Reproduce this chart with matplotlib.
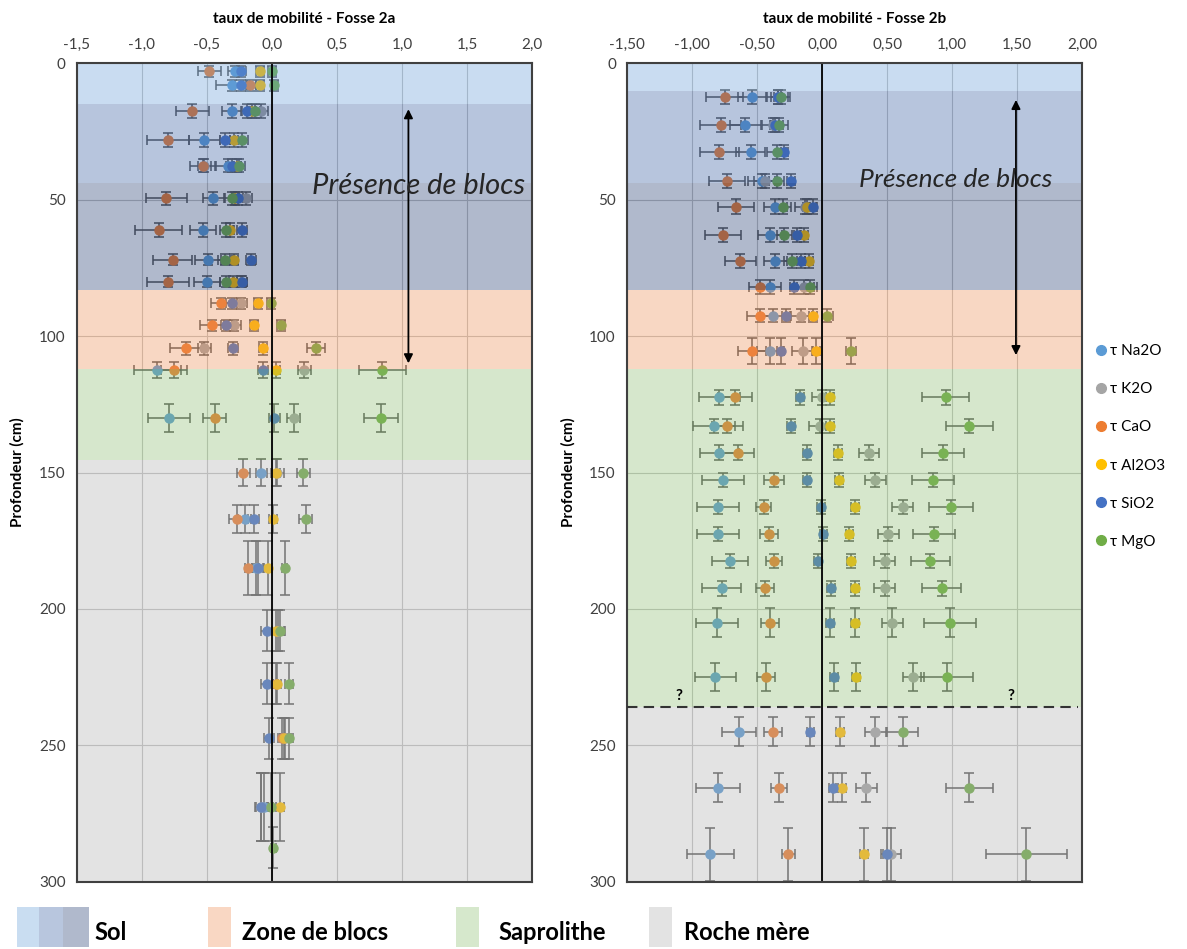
import matplotlib
matplotlib.use("Agg")
import matplotlib.pyplot as plt
import numpy as np
from matplotlib.patches import Rectangle
from matplotlib.lines import Line2D
from matplotlib.ticker import FuncFormatter, MultipleLocator

plt.rcParams['font.family'] = ['Lato', 'DejaVu Sans']

nan = np.nan

## series names and colours (Excel palette)
elements = ["Na2O", "K2O", "CaO", "Al2O3", "SiO2", "MgO"]
colors = ["#5b9bd5", "#a5a5a5", "#ed7d31", "#ffc000", "#4472c4", "#70ad47"]

## Fosse 2a
depth_2a = [3, 8, 17.5, 28, 37.5, 49.5, 61, 72, 80, 88, 96, 104.5, 112.5, 130,
            150, 167, 185, 208, 227.5, 247.5, 272.5, 287.5]
yerr_2a = [2, 2, 2.5, 2.5, 2.5, 2.5, 2.5, 2, 2, 2, 2, 2.5, 3, 5,
           5, 5, 10, 7.5, 7.5, 7.5, 12.5, 7.5]
na2o_2a = [-0.28, -0.31, -0.31, -0.52, -0.34, -0.45, -0.53, -0.49, -0.50, nan, nan, nan, -0.88, -0.79,
           -0.08, -0.21, -0.12, nan, nan, nan, -0.06, nan]
k2o_2a = [nan, nan, -0.08, nan, -0.52, -0.2, nan, nan, -0.24, -0.24, -0.29, -0.52, 0.25, 0.17,
          0.04, nan, nan, 0.05, nan, 0.10, -0.08, nan]
cao_2a = [-0.48, -0.17, -0.61, -0.80, -0.53, -0.81, -0.87, -0.76, -0.80, -0.39, -0.46, -0.66, -0.75, -0.44,
          -0.22, -0.27, -0.18, nan, 0.03, 0.08, nan, nan]
al2o3_2a = [-0.09, -0.09, -0.15, -0.29, -0.27, -0.28, -0.32, -0.29, -0.30, -0.11, -0.14, -0.07, 0.03, nan,
            0.03, 0.01, -0.03, 0.03, 0.04, 0.09, 0.06, nan]
sio2_2a = [-0.24, -0.24, -0.19, -0.36, -0.31, -0.26, -0.23, -0.16, -0.23, -0.31, -0.35, -0.30, -0.07, 0.02,
           nan, -0.14, -0.11, -0.04, -0.04, -0.02, -0.08, nan]
mgo_2a = [0.0, 0.02, -0.13, -0.23, -0.25, -0.31, -0.35, -0.36, -0.35, -0.01, 0.07, 0.34, 0.85, 0.84,
          0.24, 0.26, 0.10, 0.06, 0.13, 0.13, -0.01, 0.01]
na2o_2a_xerr = [0.06, 0.12, 0.07, 0.12, 0.10, 0.08, 0.10, 0.10, 0.10, 0.05, 0.05, 0.05, 0.18, 0.16,
                0.04, 0.05, 0.02, 0.02, 0.02, 0.02, 0.02, 0.02]
cao_2a_xerr = [0.09, 0.05, 0.13, 0.16, 0.10, 0.16, 0.18, 0.15, 0.16, 0.08, 0.09, 0.12, 0.10, 0.09,
               0.05, 0.06, 0.03, 0.02, 0.02, 0.02, 0.02, 0.02]
mgo_2a_xerr = [0.03, 0.03, 0.04, 0.05, 0.04, 0.05, 0.05, 0.05, 0.05, 0.03, 0.03, 0.07, 0.18, 0.13,
               0.05, 0.05, 0.02, 0.03, 0.03, 0.03, 0.02, 0.02]

## Fosse 2b
depth_2b = [12.5, 22.5, 32.5, 43, 52.5, 63, 72.5, 82, 92.5, 105.5, 122.5, 133, 142.7, 152.7,
            162.7, 172.5, 182.5, 192.5, 205, 225, 245, 265.5, 290]
yerr_2b = [2.6, 2.6, 2.6, 2.6, 2.6, 2.6, 2.6, 2.6, 2.5, 4.8, 2.6, 2.6, 2.6, 2.6,
           2.6, 2.6, 2.6, 2.6, 5.2, 5.2, 5.2, 5.2, 9.8]
na2o_2b = [-0.54, -0.59, -0.55, -0.46, -0.36, -0.40, -0.36, -0.40, -0.38, -0.40, -0.79, -0.83, -0.79, -0.76,
           -0.80, -0.80, -0.71, -0.77, -0.81, -0.82, -0.64, -0.80, -0.86]
k2o_2b = [-0.34, -0.38, nan, -0.44, -0.13, nan, nan, -0.14, -0.16, -0.15, 0.0, -0.02, 0.36, 0.41,
          0.62, 0.51, 0.48, 0.48, 0.54, 0.70, 0.41, 0.34, 0.53]
cao_2b = [-0.75, -0.78, -0.79, -0.73, -0.66, -0.76, -0.63, -0.48, -0.48, -0.54, -0.67, -0.73, -0.65, -0.37,
          -0.45, -0.41, -0.37, -0.44, -0.40, -0.43, -0.38, -0.33, -0.26]
al2o3_2b = [nan, nan, nan, nan, -0.12, -0.14, -0.10, nan, -0.07, -0.05, 0.06, 0.06, 0.12, 0.13,
            0.25, 0.21, 0.22, 0.25, 0.25, 0.26, 0.14, 0.15, 0.32]
sio2_2b = [-0.34, -0.36, -0.29, -0.24, -0.07, -0.19, -0.16, -0.22, -0.28, -0.32, -0.17, -0.24, -0.12, -0.12,
           -0.01, 0.01, -0.03, 0.07, 0.06, 0.09, -0.09, 0.08, 0.50]
mgo_2b = [-0.32, -0.33, -0.35, -0.35, -0.30, -0.29, -0.23, -0.09, 0.04, 0.22, 0.95, 1.13, 0.93, 0.85,
          0.99, 0.86, 0.83, 0.92, 0.98, 0.96, 0.62, 1.13, 1.57]
na2o_2b_xerr = [0.11, 0.12, 0.11, 0.11, 0.09, 0.09, 0.09, 0.08, 0.10, 0.10, 0.16, 0.16, 0.15, 0.16,
                0.16, 0.16, 0.14, 0.15, 0.16, 0.16, 0.13, 0.17, 0.18]
cao_2b_xerr = [0.14, 0.16, 0.15, 0.14, 0.14, 0.14, 0.12, 0.08, 0.10, 0.11, 0.13, 0.12, 0.13, 0.08,
               0.06, 0.07, 0.06, 0.07, 0.07, 0.07, 0.07, 0.06, 0.05]
mgo_2b_xerr = [0.07, 0.07, 0.07, 0.06, 0.06, 0.06, 0.06, 0.05, 0.04, 0.04, 0.18, 0.18, 0.16, 0.16,
               0.17, 0.16, 0.15, 0.15, 0.20, 0.20, 0.12, 0.18, 0.31]

## zone limits (cm)
zones_2a = [0, 15, 44, 83, 112, 145.5, 300]
zones_2b = [0, 10, 44, 83, 112, 236, 300]
blocs_2a = (15.8, 111)
blocs_2b = (12.4, 108)
limit_2b = 236

## zone colours as they look over white, drawn semi-transparent above the points
ALPHA = 0.35
zone_colors = [(0.79, 0.865, 0.945), (0.72, 0.775, 0.87), (0.69, 0.725, 0.80),
               (0.975, 0.845, 0.765), (0.84, 0.91, 0.80), (0.89, 0.89, 0.89)]


def overlay(final):
    return tuple(min(1, max(0, (c - (1 - ALPHA)) / ALPHA)) for c in final)


def draw_panel(ax, depth, values, xerrs, yerr, zones, title, decimals):
    for i in range(len(zones) - 1):
        ax.axhspan(zones[i], zones[i + 1], color=overlay(zone_colors[i]), alpha=ALPHA, lw=0, zorder=3)
    for v, xe, c in zip(values, xerrs, colors):
        ax.errorbar(v, depth, xerr=xe, yerr=yerr, fmt='o', color=c, ms=6.5, mec=c,
                    ecolor='#555555', elinewidth=1.1, capsize=3.5, capthick=1.1, zorder=2)
    ax.axvline(0, color='black', lw=1.3, zorder=4)
    ax.set_xlim(-1.5, 2.0)
    ax.set_ylim(300, 0)
    ax.xaxis.set_major_locator(MultipleLocator(0.5))
    ax.yaxis.set_major_locator(MultipleLocator(50))
    ax.xaxis.set_major_formatter(FuncFormatter(lambda x, p: f"{x:.{decimals}f}".replace('.', ',')))
    ax.xaxis.tick_top()
    ax.tick_params(length=0, labelsize=11, colors='#404040', pad=8)
    ax.grid(color='#c4c4c4', lw=0.8)
    ax.set_axisbelow(True)
    for s in ax.spines.values():
        s.set_color('#404040')
        s.set_linewidth(1.5)
        s.set_zorder(5)
    ax.set_title(title, fontsize=11, fontweight='bold', pad=11)
    ax.set_ylabel('Profondeur (cm)', fontsize=11, fontweight='bold', labelpad=10)


W, H = 1187, 949
fig = plt.figure(figsize=(W / 100, H / 100), dpi=100)
ax1 = fig.add_axes([76.7 / W, 1 - 881.7 / H, 455.3 / W, 818.4 / H])
ax2 = fig.add_axes([627 / W, 1 - 881.7 / H, 455.3 / W, 818.4 / H])

draw_panel(ax1, depth_2a, [na2o_2a, k2o_2a, cao_2a, al2o3_2a, sio2_2a, mgo_2a],
           [na2o_2a_xerr, 0.05, cao_2a_xerr, 0.03, 0.04, mgo_2a_xerr], yerr_2a, zones_2a,
           'taux de mobilité - Fosse 2a', 1)
draw_panel(ax2, depth_2b, [na2o_2b, k2o_2b, cao_2b, al2o3_2b, sio2_2b, mgo_2b],
           [na2o_2b_xerr, 0.08, cao_2b_xerr, 0.03, 0.03, mgo_2b_xerr], yerr_2b, zones_2b,
           'taux de mobilité - Fosse 2b', 2)

# blocks annotation
arrow = dict(arrowstyle='<|-|>', color='black', lw=1.3, mutation_scale=13)
ax1.annotate('', xy=(1.05, blocs_2a[1]), xytext=(1.05, blocs_2a[0]), arrowprops=arrow, zorder=6)
ax2.annotate('', xy=(1.49, blocs_2b[1]), xytext=(1.49, blocs_2b[0]), arrowprops=arrow, zorder=6)
ax1.text(1.13, 45, 'Présence de blocs', style='italic', fontsize=21, ha='center', va='center',
         color='#262626', zorder=6)
ax2.text(1.03, 42.5, 'Présence de blocs', style='italic', fontsize=19, ha='center', va='center',
         color='#262626', zorder=6)

# saprolite / bedrock limit
ax2.plot([-1.5, 1.97], [limit_2b, limit_2b], ls=(0, (5, 3)), color='#333333', lw=1.5, zorder=6)
ax2.text(-1.1, limit_2b - 1.5, '?', fontsize=11, fontweight='bold', ha='center', va='bottom', zorder=6)
ax2.text(1.45, limit_2b - 1.5, '?', fontsize=11, fontweight='bold', ha='center', va='bottom', zorder=6)

# series legend
handles = [Line2D([], [], marker='o', ls='', color=c, ms=7) for c in colors]
fig.legend(handles, ['τ ' + e for e in elements], loc='upper left',
           bbox_to_anchor=(1089 / W, 1 - 338 / H), frameon=False, fontsize=11,
           handlelength=0.8, handletextpad=0.2, labelspacing=1.58, borderaxespad=0)

# zone legend at the bottom
sol_cols = zone_colors[:3]
for i, x0 in enumerate([17, 39, 63]):
    fig.add_artist(Rectangle((x0 / W, 1 - 947 / H), 26 / W, 40 / H, transform=fig.transFigure,
                             color=sol_cols[i], lw=0))
fig.text(94 / W, 1 - 932 / H, 'Sol', fontsize=17, fontweight='bold', va='center')
items = [(208, 242, 3, 'Zone de blocs'), (456, 498, 4, 'Saprolithe'), (649, 684, 5, 'Roche mère')]
for px, tx, ci, lab in items:
    fig.add_artist(Rectangle((px / W, 1 - 947 / H), 23 / W, 40 / H, transform=fig.transFigure,
                             color=zone_colors[ci], lw=0))
    fig.text(tx / W, 1 - 932 / H, lab, fontsize=17, fontweight='bold', va='center')

fig.savefig('out.png', dpi=100)
